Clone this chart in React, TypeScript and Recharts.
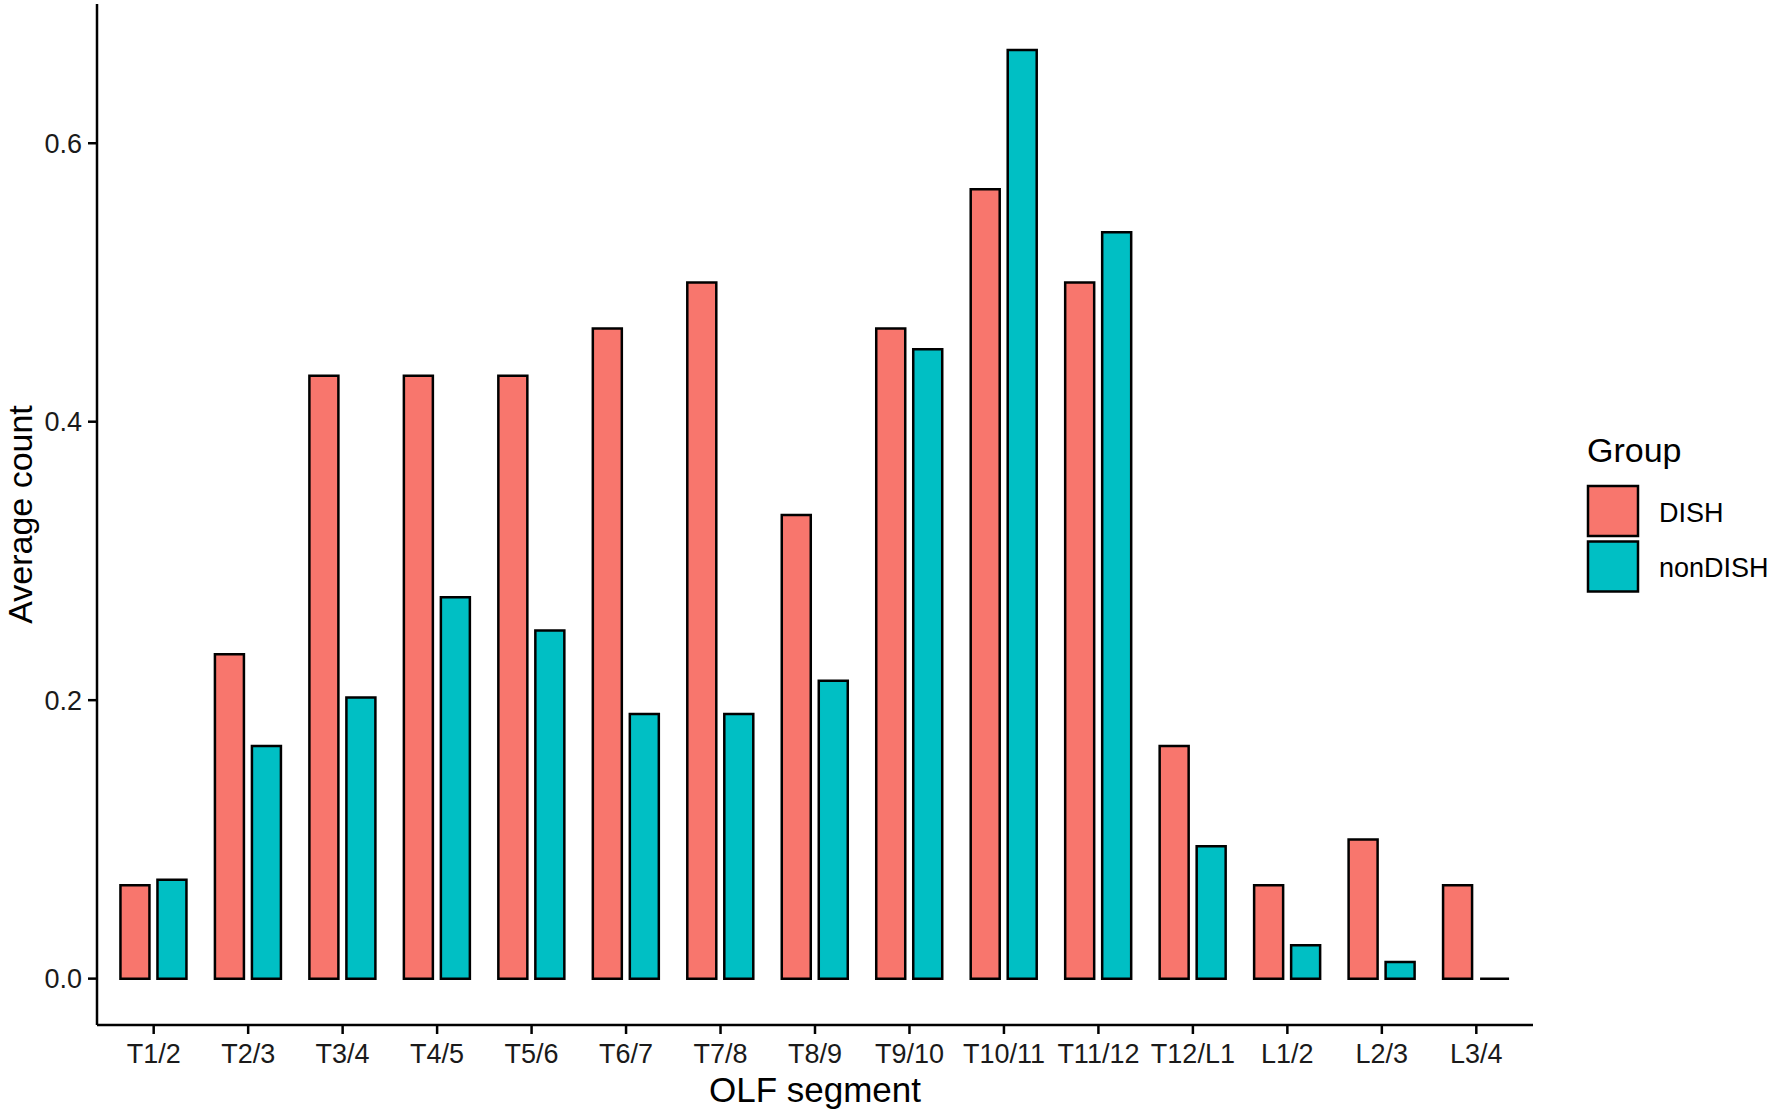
import React from "react";
import { BarChart, Bar, XAxis, YAxis, Label } from "recharts";

const categories = ["T1/2", "T2/3", "T3/4", "T4/5", "T5/6", "T6/7", "T7/8", "T8/9", "T9/10", "T10/11", "T11/12", "T12/L1", "L1/2", "L2/3", "L3/4"];
const dishValues = [0.067, 0.233, 0.433, 0.433, 0.433, 0.467, 0.5, 0.333, 0.467, 0.567, 0.5, 0.167, 0.067, 0.1, 0.067];
const nonDishValues = [0.071, 0.167, 0.202, 0.274, 0.25, 0.19, 0.19, 0.214, 0.452, 0.667, 0.536, 0.095, 0.024, 0.012, 0];
const seriesNames = ["DISH", "nonDISH"];
const seriesColors = ["#F8766D", "#00BFC4"];
const yTicks = [0, 0.2, 0.4, 0.6];

const data = categories.map((c, i) => ({ segment: c, DISH: dishValues[i], nonDISH: nonDishValues[i] }));

const FONT = "'Liberation Sans', Arial, Helvetica, sans-serif";

const BarShape = (props: any) => {
  const { x, y, width, height, fill } = props;
  if (x == null || y == null) return null;
  const d = `M${x},${y}h${width}v${height}h${-width}Z`;
  return <path d={d} fill={fill} stroke="#000" strokeWidth={2.5} />;
};

export default function App() {
  return (
    <div style={{ position: "absolute", left: 0, top: 0, width: 1770, height: 1111, background: "#fff" }}>
      <BarChart
        width={1770}
        height={1111}
        data={data}
        margin={{ top: 4, right: 237, left: 0, bottom: 0 }}
        barSize={29}
        barGap={8}
      >
        <XAxis
          dataKey="segment"
          height={86}
          padding={{ left: 9.45, right: 9.45 }}
          axisLine={{ stroke: "#000", strokeWidth: 2.5 }}
          tickLine={{ stroke: "#000", strokeWidth: 2.5 }}
          tickSize={9}
          tickMargin={10}
          interval={0}
          tick={{ fill: "#1a1a1a", fontSize: 27, fontFamily: FONT }}
        >
          <Label
            content={(p: any) => {
              const vb = p.viewBox || {};
              return (
                <text x={vb.x + vb.width / 2} y={1102} textAnchor="middle" fontSize={35} fontFamily={FONT} fill="#000">
                  OLF segment
                </text>
              );
            }}
          />
        </XAxis>
        <YAxis
          width={97}
          domain={[-0.0333, 0.7]}
          ticks={yTicks}
          allowDataOverflow
          axisLine={{ stroke: "#000", strokeWidth: 2.5 }}
          tickLine={{ stroke: "#000", strokeWidth: 2.5 }}
          tickSize={9}
          tickMargin={6}
          tickFormatter={(v: number) => v.toFixed(1)}
          tick={{ fill: "#1a1a1a", fontSize: 27, fontFamily: FONT }}
        >
          <Label
            content={(p: any) => {
              const vb = p.viewBox || {};
              const cy = vb.y + vb.height / 2;
              return (
                <text x={32} y={cy} transform={`rotate(-90, 32, ${cy})`} textAnchor="middle" fontSize={34} fontFamily={FONT} fill="#000">
                  Average count
                </text>
              );
            }}
          />
        </YAxis>
        <Bar dataKey="DISH" fill={seriesColors[0]} isAnimationActive={false} shape={BarShape} />
        <Bar dataKey="nonDISH" fill={seriesColors[1]} isAnimationActive={false} shape={BarShape} />
      </BarChart>
      <svg style={{ position: "absolute", left: 1560, top: 420 }} width={210} height={190}>
        <text x={27} y={41.7} fontSize={34} fontFamily={FONT} fill="#000">Group</text>
        {seriesNames.map((name, i) => (
          <g key={name}>
            <rect x={28} y={66 + i * 55.5} width={50} height={50} fill={seriesColors[i]} stroke="#000" strokeWidth={2.5} />
            <text x={99} y={102.3 + i * 54.5} fontSize={27} fontFamily={FONT} fill="#000">{name}</text>
          </g>
        ))}
      </svg>
    </div>
  );
}
